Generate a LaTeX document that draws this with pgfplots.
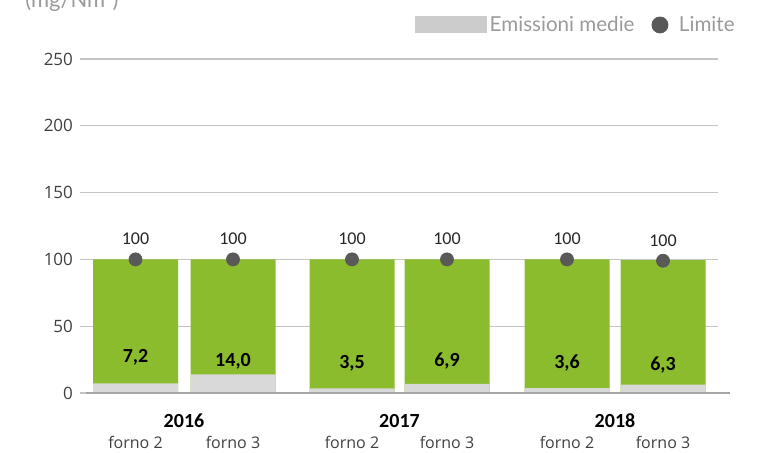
\documentclass[border=0pt]{standalone}
\usepackage{fontspec}
\setmainfont{Open Sans}
\newfontfamily\carlito{Carlito}
\newfontfamily\lato{Lato}
\usepackage{pgfplots}
\pgfplotsset{compat=1.18}
\definecolor{barGreen}{HTML}{8BBC2D}
\definecolor{barGrey}{HTML}{D9D9D9}
\definecolor{legGrey}{HTML}{CCCCCC}
\definecolor{dotGrey}{HTML}{595959}
\definecolor{gridGrey}{HTML}{C4C4C4}
\definecolor{baseGrey}{HTML}{A6A6A6}
\definecolor{tickGrey}{HTML}{404040}
\definecolor{lightText}{HTML}{9A9A9A}
\begin{document}
\begin{tikzpicture}
\begin{axis}[
  at={(0,0)}, anchor=south west,
  scale only axis, width=319pt, height=167pt,
  xmin=80, xmax=718, ymin=0, ymax=250,
  ytick={0,50,100,150,200,250},
  xtick=\empty,
  ymajorgrids, grid style={color=gridGrey, line width=0.6pt},
  axis line style={draw=none},
  major tick length=0pt,
  clip=false,
  /pgf/number format/assume math mode=true,
  yticklabel style={font=\fontsize{8.5}{10}\selectfont, color=tickGrey},
  legend columns=2,
  legend style={draw=none, fill=none, at={(rel axis cs:1,1)}, anchor=east,
    xshift=10pt, yshift=17pt, inner sep=0pt,
    font=\lato\fontsize{10.3}{12}\selectfont, text=lightText,
    /tikz/every even column/.append style={column sep=7pt},
    nodes={inner sep=1.5pt}},
]
\addplot[ybar, bar width=85, bar shift=0pt, fill=barGreen, draw=none, forget plot]
  coordinates {(135.5,100) (233,100) (352,100) (447,100) (567,100) (663,99.5)};
\addplot[ybar, bar width=85, bar shift=0pt, fill=barGrey, draw=none,
  legend image code/.code={\fill[legGrey] (0pt,-4.25pt) rectangle (36pt,4.25pt);}]
  coordinates {(135.5,7.2) (233,14.0) (352,3.5) (447,6.9) (567,3.6) (663,6.3)};
\addlegendentry{Emissioni medie}
\draw[color=baseGrey, line width=1pt] (axis cs:86,0) -- (axis cs:730,0);
\addplot[only marks, mark=*, mark size=3.25pt, color=dotGrey,
  legend image code/.code={\fill[dotGrey] (4pt,0pt) circle (4pt); \path[draw=none,fill=none] (0pt,0pt) rectangle (12pt,0.1pt);}]
  coordinates {(135.5,100) (233,100) (352,100) (447,100) (567,100) (663,99)};
\addlegendentry{Limite}
% value labels
\begin{scope}[every node/.style={anchor=base, font=\carlito\bfseries\fontsize{10}{12}\selectfont}]
\node at (axis cs:135.5,22.5) {7,2};
\node at (axis cs:233,20) {14,0};
\node at (axis cs:352,18) {3,5};
\node at (axis cs:447,19.5) {6,9};
\node at (axis cs:567,18.7) {3,6};
\node at (axis cs:663,17) {6,3};
\end{scope}
\begin{scope}[every node/.style={anchor=base, font=\carlito\fontsize{9}{11}\selectfont, text=black!85}]
\node at (axis cs:135.5,110.8) {100};
\node at (axis cs:233,110.8) {100};
\node at (axis cs:352,110.8) {100};
\node at (axis cs:447,110.8) {100};
\node at (axis cs:567,110.8) {100};
\node at (axis cs:663,109.3) {100};
\end{scope}
\begin{scope}[every node/.style={anchor=base, font=\carlito\bfseries\fontsize{10}{12}\selectfont}]
\node at (axis cs:184,-26.2) {2016};
\node at (axis cs:399.5,-26.2) {2017};
\node at (axis cs:615,-26.2) {2018};
\end{scope}
\begin{scope}[every node/.style={anchor=base, font=\fontsize{8}{10}\selectfont, text=tickGrey}]
\node at (axis cs:135.5,-41.9) {forno 2};
\node at (axis cs:233,-41.9) {forno 3};
\node at (axis cs:352,-41.9) {forno 2};
\node at (axis cs:447,-41.9) {forno 3};
\node at (axis cs:567,-41.9) {forno 2};
\node at (axis cs:663,-41.9) {forno 3};
\end{scope}
\end{axis}
\node[anchor=base west, inner sep=0pt, font=\lato\fontsize{11}{13}\selectfont, text=lightText] at (-27.5pt,192.5pt) {(mg/Nm³)};
\pgfresetboundingbox
\useasboundingbox (-40pt,-30pt) rectangle (344.5pt,196.5pt);
\end{tikzpicture}
\end{document}
